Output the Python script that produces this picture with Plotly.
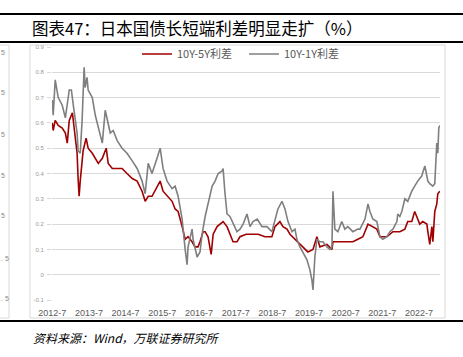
import plotly.graph_objects as go

# ---------------- data ----------------
grey_dates = [
    "2012-07-01", "2012-07-10", "2012-07-30", "2012-08-29", "2012-10-08", "2012-11-08", "2012-12-17",
    "2013-01-07", "2013-01-26", "2013-02-15", "2013-03-05", "2013-03-15", "2013-04-05", "2013-04-24",
    "2013-05-14", "2013-05-24", "2013-06-12", "2013-06-23", "2013-08-03", "2013-09-02", "2013-10-02",
    "2013-11-11", "2013-12-10", "2013-12-30", "2014-01-29", "2014-02-28", "2014-04-08", "2014-05-27",
    "2014-07-15", "2014-09-05", "2014-10-24", "2014-12-12", "2015-01-12", "2015-02-11", "2015-03-21",
    "2015-05-10", "2015-06-10", "2015-07-09", "2015-08-18", "2015-10-07", "2015-11-06", "2015-12-06",
    "2016-01-15", "2016-02-14", "2016-03-04", "2016-03-14", "2016-04-23", "2016-05-03", "2016-06-12",
    "2016-07-11", "2016-08-01", "2016-08-31", "2016-09-29", "2016-11-09", "2016-12-08", "2017-01-08",
    "2017-02-16", "2017-02-26", "2017-03-15", "2017-04-06", "2017-05-05", "2017-06-05", "2017-07-14",
    "2017-08-13", "2017-09-13", "2017-10-22", "2017-11-21", "2017-12-21", "2018-02-01", "2018-03-20",
    "2018-05-08", "2018-06-27", "2018-07-27", "2018-08-26", "2018-10-05", "2018-11-04", "2018-12-04",
    "2019-01-13", "2019-02-12", "2019-03-03", "2019-04-02", "2019-05-01", "2019-06-10", "2019-07-10",
    "2019-07-30", "2019-08-10", "2019-08-29", "2019-09-18", "2019-10-18", "2019-11-17", "2019-12-27",
    "2020-01-26", "2020-02-15", "2020-02-25", "2020-03-15", "2020-04-14", "2020-05-23", "2020-06-22",
    "2020-07-22", "2020-09-11", "2020-10-30", "2020-11-20", "2021-01-09", "2021-02-08", "2021-02-27",
    "2021-03-28", "2021-05-07", "2021-06-07", "2021-07-06", "2021-08-15", "2021-09-14", "2021-10-14",
    "2021-11-23", "2021-12-01", "2021-12-22", "2022-01-11", "2022-02-10", "2022-03-11", "2022-04-20",
    "2022-05-19", "2022-06-18", "2022-07-28", "2022-08-28", "2022-09-17", "2022-09-27", "2022-10-16",
    "2022-11-15", "2022-12-05", "2022-12-15", "2022-12-25", "2023-01-04", "2023-01-14", "2023-01-24",
]
grey_values = [
    0.69, 0.63, 0.77, 0.70, 0.67, 0.62, 0.73,
    0.73, 0.67, 0.62, 0.56, 0.49, 0.48, 0.61,
    0.82, 0.74, 0.78, 0.73, 0.70, 0.63, 0.58,
    0.52, 0.65, 0.61, 0.56, 0.57, 0.53, 0.50,
    0.48, 0.45, 0.42, 0.37, 0.32, 0.44, 0.40,
    0.46, 0.50, 0.42, 0.37, 0.34, 0.35, 0.31,
    0.22, 0.10, 0.04, 0.11, 0.18, 0.14, 0.07,
    0.09, 0.16, 0.23, 0.28, 0.35, 0.37, 0.40,
    0.41, 0.42, 0.33, 0.24, 0.23, 0.20, 0.17,
    0.18, 0.20, 0.24, 0.19, 0.21, 0.22, 0.19,
    0.19, 0.17, 0.22, 0.26, 0.29, 0.26, 0.21,
    0.17, 0.18, 0.14, 0.11, 0.09, 0.06, 0.02,
    -0.02, -0.06, 0.07, 0.14, 0.13, 0.13, 0.11,
    0.10, 0.11, 0.33, 0.18, 0.17, 0.21, 0.18,
    0.19, 0.17, 0.18, 0.18, 0.22, 0.28, 0.25,
    0.22, 0.21, 0.15, 0.14, 0.15, 0.17, 0.18,
    0.21, 0.24, 0.23, 0.25, 0.30, 0.29, 0.33,
    0.35, 0.37, 0.39, 0.43, 0.39, 0.37, 0.36,
    0.35, 0.36, 0.44, 0.52, 0.48, 0.58, 0.59,
]

red_dates = [
    "2012-07-01", "2012-07-10", "2012-07-30", "2012-08-29", "2012-10-08", "2012-11-08", "2012-11-27",
    "2012-12-17", "2013-01-17", "2013-01-26", "2013-02-15", "2013-03-05", "2013-03-15", "2013-03-25",
    "2013-04-05", "2013-04-24", "2013-05-04", "2013-06-03", "2013-06-23", "2013-08-03", "2013-09-02",
    "2013-10-02", "2013-11-11", "2013-12-20", "2014-01-09", "2014-02-18", "2014-04-08", "2014-05-27",
    "2014-07-15", "2014-09-05", "2014-10-24", "2014-12-12", "2015-01-12", "2015-02-11", "2015-03-21",
    "2015-05-10", "2015-06-10", "2015-07-09", "2015-08-28", "2015-10-07", "2015-11-06", "2015-12-06",
    "2016-01-15", "2016-02-14", "2016-03-14", "2016-04-23", "2016-05-22", "2016-06-21", "2016-07-11",
    "2016-08-11", "2016-08-31", "2016-09-29", "2016-10-30", "2016-11-19", "2016-12-28", "2017-01-27",
    "2017-02-26", "2017-04-06", "2017-05-05", "2017-06-05", "2017-07-14", "2017-08-13", "2017-10-13",
    "2017-12-12", "2018-02-10", "2018-04-19", "2018-06-27", "2018-07-27", "2018-09-15", "2018-10-15",
    "2018-11-24", "2018-12-24", "2019-02-12", "2019-04-02", "2019-05-01", "2019-06-20", "2019-08-10",
    "2019-09-18", "2019-10-18", "2019-12-27", "2020-02-15", "2020-02-25", "2020-04-04", "2020-06-03",
    "2020-09-11", "2020-10-30", "2020-12-19", "2021-02-08", "2021-03-19", "2021-05-07", "2021-06-07",
    "2021-08-15", "2021-10-14", "2021-12-22", "2022-02-10", "2022-03-11", "2022-04-20", "2022-05-19",
    "2022-06-08", "2022-07-08", "2022-08-07", "2022-09-17", "2022-09-27", "2022-10-16", "2022-11-06",
    "2022-11-16", "2022-12-05", "2022-12-25", "2023-01-04", "2023-01-24",
]
red_values = [
    0.60, 0.57, 0.61, 0.59, 0.58, 0.56, 0.52,
    0.61, 0.64, 0.61, 0.54, 0.48, 0.38, 0.31,
    0.37, 0.44, 0.49, 0.54, 0.50, 0.48, 0.46,
    0.44, 0.46, 0.50, 0.44, 0.42, 0.42, 0.42,
    0.40, 0.38, 0.37, 0.33, 0.29, 0.31, 0.31,
    0.35, 0.37, 0.33, 0.31, 0.29, 0.26, 0.25,
    0.19, 0.14, 0.15, 0.13, 0.11, 0.11, 0.13,
    0.17, 0.17, 0.15, 0.08, 0.16, 0.19, 0.20,
    0.21, 0.19, 0.16, 0.13, 0.13, 0.15, 0.16,
    0.16, 0.16, 0.15, 0.15, 0.19, 0.21, 0.19,
    0.18, 0.16, 0.14, 0.12, 0.11, 0.09, 0.10,
    0.15, 0.11, 0.12, 0.10, 0.13, 0.13, 0.13,
    0.13, 0.14, 0.15, 0.20, 0.19, 0.18, 0.15,
    0.15, 0.17, 0.17, 0.18, 0.21, 0.21, 0.25,
    0.23, 0.20, 0.21, 0.20, 0.17, 0.12, 0.19,
    0.13, 0.25, 0.28, 0.32, 0.33,
]

tick_dates = ["2012-07-01", "2013-07-01", "2014-07-01", "2015-07-01", "2016-07-01", "2017-07-01",
              "2018-07-01", "2019-07-01", "2020-07-01", "2021-07-01", "2022-07-01"]
tick_labels = ["2012-7", "2013-7", "2014-7", "2015-7", "2016-7", "2017-7",
               "2018-7", "2019-7", "2020-7", "2021-7", "2022-7"]
y_ticks = [-0.1, 0, 0.1, 0.2, 0.3, 0.4, 0.5, 0.6, 0.7, 0.8, 0.9]
y_labels = ["-0.1", "0", "0.1", "0.2", "0.3", "0.4", "0.5", "0.6", "0.7", "0.8", "0.9"]

title_text = "图表47：日本国债长短端利差明显走扩（%）"
source_text = "资料来源：Wind，万联证券研究所"
side_labels = ["5", "5", "5", "5", "5", ". 5", ". 5"]

# ---------------- figure ----------------
W, H = 463, 357
L, R, T, B = 52, 23, 47, 57
pw, ph = W - L - R, H - T - B


def px(x):
    return (x - L) / pw


def py(y):
    return (H - B - y) / ph


CJK = "Noto Sans CJK SC"
LAT = "Liberation Sans, Arial, sans-serif"

fig = go.Figure()
fig.add_trace(go.Scatter(x=red_dates, y=red_values, mode="lines", name="10Y-5Y利差",
                         line=dict(color="#A00000", width=1.6)))
fig.add_trace(go.Scatter(x=grey_dates, y=grey_values, mode="lines", name="10Y-1Y利差",
                         line=dict(color="#7F7F7F", width=1.6)))

shapes = [
    dict(type="line", xref="paper", yref="paper", x0=px(0), x1=px(W), y0=py(14), y1=py(14),
         line=dict(color="black", width=2.2)),
    dict(type="line", xref="paper", yref="paper", x0=px(0), x1=px(W), y0=py(42), y1=py(42),
         line=dict(color="black", width=2.2)),
    dict(type="line", xref="paper", yref="paper", x0=px(0), x1=px(W), y0=py(321), y1=py(321),
         line=dict(color="black", width=2.2)),
    dict(type="rect", xref="paper", yref="paper", x0=px(30), x1=px(445), y0=py(318), y1=py(45),
         line=dict(color="#D9D9D9", width=1)),
    dict(type="rect", xref="paper", yref="paper", x0=px(-5), x1=px(9), y0=py(318), y1=py(45),
         line=dict(color="#D9D9D9", width=1)),
]

annotations = [
    dict(text=title_text, xref="paper", yref="paper", x=px(30), y=py(28), xanchor="left",
         yanchor="middle", showarrow=False, font=dict(family=CJK, size=16.5, color="#000000")),
    dict(text="<i>" + source_text + "</i>", xref="paper", yref="paper", x=px(31), y=py(337),
         xanchor="left", yanchor="middle", showarrow=False,
         font=dict(family=CJK, size=12, color="#000000")),
]
for lab, yy in zip(side_labels, [52, 93, 134, 175, 216, 258, 298]):
    annotations.append(dict(text=lab, xref="paper", yref="paper", x=px(0), y=py(yy), xanchor="left",
                            yanchor="middle", showarrow=False, borderpad=0,
                            font=dict(family=LAT, size=7, color="#888888")))

fig.update_layout(
    width=W, height=H,
    margin=dict(l=L, r=R, t=T, b=B, pad=0),
    paper_bgcolor="white", plot_bgcolor="white",
    showlegend=True,
    legend=dict(orientation="h", x=px(137), y=py(54), xanchor="left", yanchor="middle",
                font=dict(family=CJK, size=11, color="#595959"), bgcolor="rgba(0,0,0,0)",
                itemwidth=30, tracegroupgap=0, entrywidth=62, entrywidthmode="pixels"),
    shapes=shapes,
    annotations=annotations,
    xaxis=dict(type="date", range=["2012-06-28", "2023-01-26"], tickvals=tick_dates, ticktext=tick_labels,
               showgrid=False, zeroline=False, showline=False, ticks="",
               tickfont=dict(family=LAT, size=9, color="#595959"), ticklabelstandoff=6),
    xaxis2=dict(type="date", overlaying="x", matches="x", anchor="free", position=0.1,
                tickvals=tick_dates, showticklabels=False, showgrid=False, zeroline=False,
                showline=True, linecolor="#D9D9D9", linewidth=1, ticks="outside", ticklen=3,
                tickcolor="#BFBFBF", side="bottom"),
    yaxis=dict(range=[-0.1, 0.9], tickvals=y_ticks, ticktext=y_labels, showgrid=True,
               gridcolor="#D9D9D9", gridwidth=1, zeroline=False, showline=False,
               ticks="outside", ticklen=4, tickcolor="#D9D9D9",
               tickfont=dict(family=LAT, size=6, color="#999999"), ticklabelstandoff=2),
)

fig.write_html("out.html",
               config={"displayModeBar": False},
               post_script="document.body.style.margin='0';document.body.style.padding='0';")
